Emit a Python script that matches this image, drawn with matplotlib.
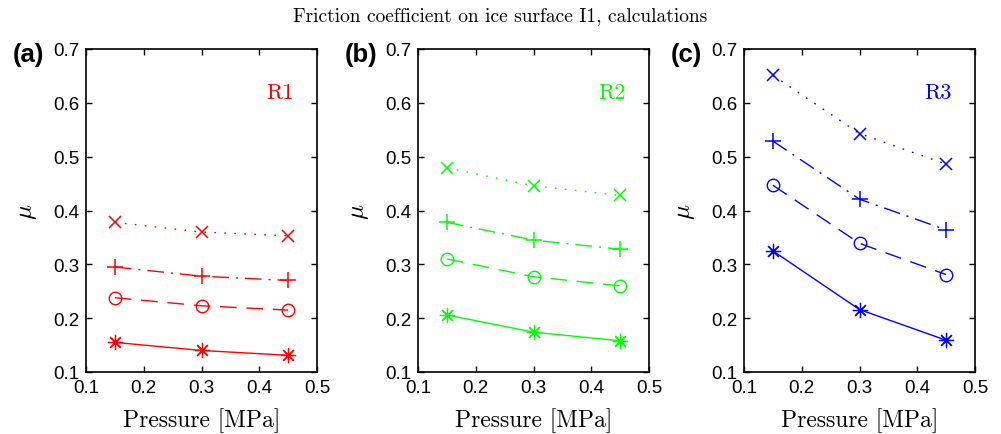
import matplotlib
matplotlib.use("Agg")
import matplotlib.pyplot as plt

pressure = [0.15, 0.30, 0.45]

# Friction coefficient per panel: rows are the four calculation series
r1_star = [0.155, 0.140, 0.131]
r1_circle = [0.238, 0.223, 0.215]
r1_plus = [0.295, 0.278, 0.270]
r1_cross = [0.378, 0.360, 0.353]

r2_star = [0.206, 0.174, 0.158]
r2_circle = [0.310, 0.277, 0.260]
r2_plus = [0.378, 0.345, 0.328]
r2_cross = [0.479, 0.446, 0.428]

r3_star = [0.325, 0.216, 0.159]
r3_circle = [0.447, 0.339, 0.281]
r3_plus = [0.529, 0.421, 0.364]
r3_cross = [0.651, 0.543, 0.486]

panel_tags = ["(a)", "(b)", "(c)"]
region_names = ["R1", "R2", "R3"]
colors = [(1, 0, 0), (0, 1, 0), (0, 0, 1)]
panels = [
    (r1_star, r1_circle, r1_plus, r1_cross),
    (r2_star, r2_circle, r2_plus, r2_cross),
    (r3_star, r3_circle, r3_plus, r3_cross),
]
xticks = [0.1, 0.2, 0.3, 0.4, 0.5]
yticks = [0.1, 0.2, 0.3, 0.4, 0.5, 0.6, 0.7]

plt.rcParams["mathtext.fontset"] = "cm"
serif = "cmr10"
sans = ["Liberation Sans", "DejaVu Sans"]

fig = plt.figure(figsize=(10.01, 4.35), dpi=100)
lefts = [86, 418, 744]
W, H = 1001, 435
ax_w, top, bottom = 231, 50, 373

styles = [
    dict(ls="-", marker=(8, 2, 0), ms=11, mew=0.9),
    dict(ls=(0, (12, 7)), marker="o", ms=9, mew=1.0),
    dict(ls=(0, (12, 5, 1.5, 5)), marker="+", ms=12, mew=1.1),
    dict(ls=(0, (1.2, 6)), marker="x", ms=9, mew=1.1),
]

for i, left in enumerate(lefts):
    ax = fig.add_axes([left / W, (H - bottom) / H, ax_w / W, (bottom - top) / H])
    c = colors[i]
    for series, st in zip(panels[i], styles):
        ax.plot(pressure, series, color=c, lw=1.0, linestyle=st["ls"],
                marker=st["marker"], ms=st["ms"], mfc="none", mec=c,
                mew=st["mew"])
    ax.set_xlim(0.1, 0.5)
    ax.set_ylim(0.1, 0.7)
    ax.set_xticks(xticks)
    ax.set_yticks(yticks)
    ax.set_xticklabels([f"{v:.1f}" for v in xticks], family=sans, fontsize=13.5)
    ax.set_yticklabels([f"{v:.1f}" for v in yticks], family=sans, fontsize=13.5)
    ax.tick_params(direction="in", top=True, right=True, length=4, width=1, pad=5)
    for sp in ax.spines.values():
        sp.set_linewidth(1.2)
    ax.set_xlabel("Pressure [MPa]", family=serif, fontsize=17, labelpad=8)
    ax.set_ylabel(r"$\mu$", fontsize=18, labelpad=10)
    ax.text(0.84, 0.865, region_names[i], transform=ax.transAxes, color=c,
            family=serif, fontsize=16, ha="center", va="center")
    ax.text(-0.318, 0.985, panel_tags[i], transform=ax.transAxes, family=sans,
            fontsize=18.5, fontweight="bold", ha="left", va="center")

fig.text(0.5, 0.962, "Friction coefficient on ice surface I1, calculations",
         family=serif, fontsize=14, ha="center", va="center")

fig.savefig("out.png", dpi=100)
